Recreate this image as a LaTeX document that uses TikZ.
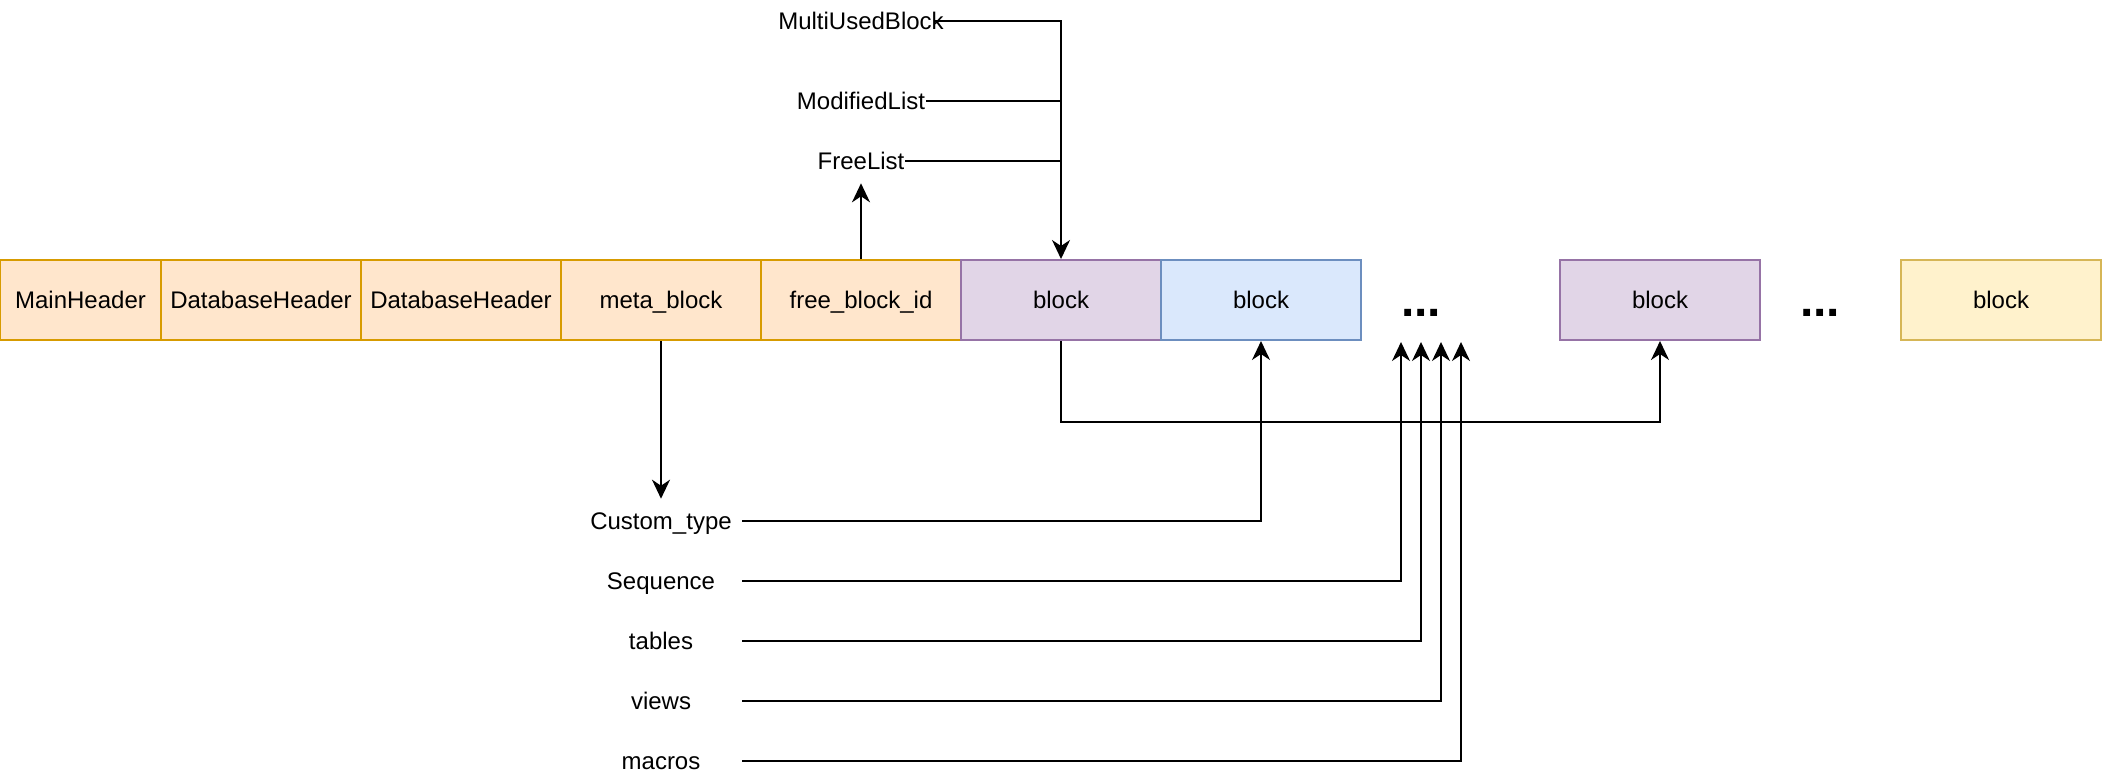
\documentclass[tikz,border=0pt]{standalone}
\usepackage{fontspec}
\setmainfont{Liberation Sans}
\usepackage{tikz}
\usetikzlibrary{arrows.meta}

\definecolor{orangefill}{HTML}{FFE6CC}
\definecolor{orangeline}{HTML}{D79B00}
\definecolor{purplefill}{HTML}{E1D5E7}
\definecolor{purpleline}{HTML}{9673A6}
\definecolor{bluefill}{HTML}{DAE8FC}
\definecolor{blueline}{HTML}{6C8EBF}
\definecolor{yellowfill}{HTML}{FFF2CC}
\definecolor{yellowline}{HTML}{D6B656}

\tikzset{
  cell/.style={draw, line width=1pt, minimum height=40pt, minimum width=100pt, inner sep=0pt,
    text height=10pt, text depth=1.3pt, font=\fontsize{12}{14}\selectfont},
  hdr/.style={cell, fill=orangefill, draw=orangeline},
  blkp/.style={cell, fill=purplefill, draw=purpleline},
  blkb/.style={cell, fill=bluefill, draw=blueline},
  blky/.style={cell, fill=yellowfill, draw=yellowline},
  lbl/.style={inner sep=0pt, text height=10pt, text depth=1.3pt, font=\fontsize{12}{14}\selectfont},
  dots/.style={inner sep=0pt, anchor=base, font=\fontsize{24}{28}\selectfont\bfseries},
  arr/.style={-{Stealth[length=9.5pt, width=9pt, inset=3pt]}, line width=1pt},
}

\begin{document}
\begin{tikzpicture}[x=0.5pt, y=-0.5pt, line width=1pt]
    \useasboundingbox (0,0) rectangle (2102,782);

    % the row of the file
    \node[hdr, minimum width=80.5pt] at (80.5, 300)  (mainhdr) {MainHeader};
    \node[hdr] at (261, 300)  (dbhdr1) {DatabaseHeader};
    \node[hdr] at (461, 300)  (dbhdr2) {DatabaseHeader};
    \node[hdr] at (661, 300)  (meta)   {meta\_block};
    \node[hdr] at (861, 300)  (freeid) {free\_block\_id};
    \node[blkp] at (1061, 300) (blk1) {block};
    \node[blkb] at (1261, 300) (blk2) {block};
    \node[dots] at (1421, 316) (dots1) {...};
    \node[blkp] at (1660, 300) (blk3) {block};
    \node[dots] at (1820, 316) (dots2) {...};
    \node[blky] at (2001, 300) (blk4) {block};

    % lists above
    \node[lbl] at (861, 21)  (multi)    {MultiUsedBlock};
    \node[lbl] at (861, 101) (modified) {ModifiedList};
    \node[lbl] at (861, 161) (freelist) {FreeList};

    % tables below
    \node[lbl, minimum width=80pt] at (661, 521) (custom) {Custom\_type};
    \node[lbl, minimum width=80pt] at (661, 581) (seq)    {Sequence};
    \node[lbl, minimum width=80pt] at (661, 641) (tabs)   {tables};
    \node[lbl, minimum width=80pt] at (661, 701) (views)  {views};
    \node[lbl, minimum width=80pt] at (661, 761) (macros) {macros};

    \coordinate (in1) at (1401, 342);
    \coordinate (in2) at (1421, 342);
    \coordinate (in3) at (1441, 342);
    \coordinate (in4) at (1461, 342);

    \draw [arr] ([xshift=-5.5pt]multi.east) -| (blk1.north);
    \draw (modified.east) -- (modified.east -| blk1.north);
    \draw (freelist.east) -- (freelist.east -| blk1.north);
    \draw [arr, shorten >=5pt] (freeid.north) -- (freelist.south);

    \draw [arr, shorten >=5pt] (meta.south) -- (custom.north);
    \draw [arr] (custom.east) -| (blk2.south);
    \draw [arr] (seq.east) -| (in1);
    \draw [arr] (tabs.east) -| (in2);
    \draw [arr] (views.east) -| (in3);
    \draw [arr] (macros.east) -| (in4);

    \draw [arr] (blk1.south) -- ++(0, 81) -| (blk3.south);
\end{tikzpicture}
\end{document}
